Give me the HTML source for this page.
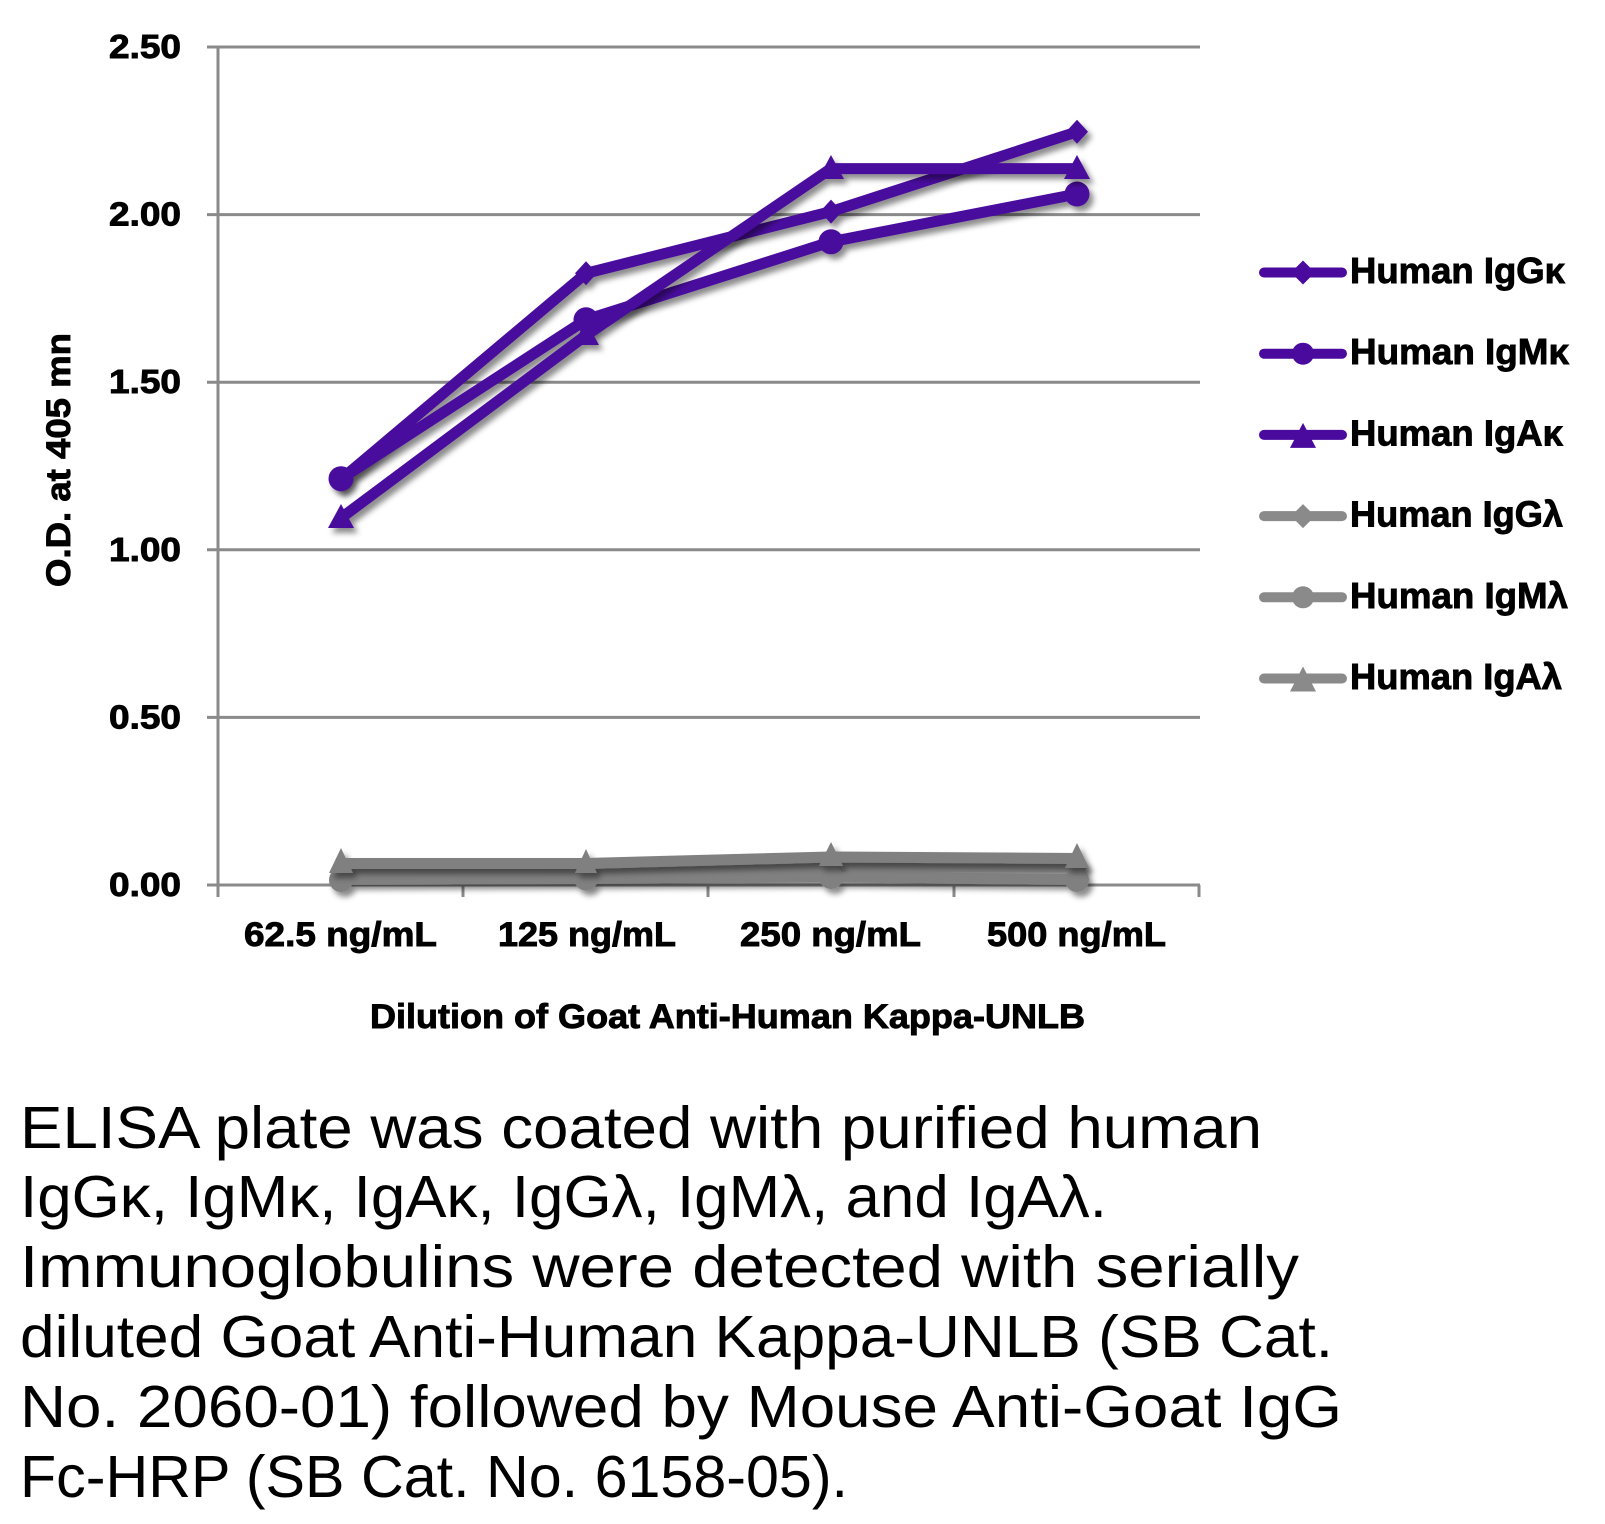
<!DOCTYPE html>
<html>
<head>
<meta charset="utf-8">
<style>
html,body{margin:0;padding:0;background:#fff;}
svg{display:block;}
text{font-family:"Liberation Sans","DejaVu Sans",sans-serif;}
</style>
</head>
<body>
<svg width="1605" height="1524" viewBox="0 0 1605 1524" xmlns="http://www.w3.org/2000/svg">
<defs>
<filter id="sh" filterUnits="userSpaceOnUse" x="0" y="0" width="1605" height="1524">
<feDropShadow dx="4" dy="5" stdDeviation="3" flood-color="#000" flood-opacity="0.45"/>
</filter>
</defs>
<rect width="1605" height="1524" fill="#fff"/>

<!-- gridlines -->
<g stroke="#8a8a8a" stroke-width="3">
<line x1="207" y1="47" x2="1200" y2="47"/>
<line x1="207" y1="214.6" x2="1200" y2="214.6"/>
<line x1="207" y1="382.2" x2="1200" y2="382.2"/>
<line x1="207" y1="549.8" x2="1200" y2="549.8"/>
<line x1="207" y1="717.4" x2="1200" y2="717.4"/>
<line x1="207" y1="885" x2="1200" y2="885"/>
<line x1="218" y1="47" x2="218" y2="897"/>
<line x1="463" y1="885" x2="463" y2="897"/>
<line x1="708" y1="885" x2="708" y2="897"/>
<line x1="954" y1="885" x2="954" y2="897"/>
<line x1="1199" y1="885" x2="1199" y2="897"/>
</g>

<!-- y tick labels -->
<g font-weight="bold" font-size="33" fill="#000" stroke="#000" stroke-width="0.9" text-anchor="end">
<text x="181" y="58" textLength="72" lengthAdjust="spacingAndGlyphs">2.50</text>
<text x="181" y="225.6" textLength="72" lengthAdjust="spacingAndGlyphs">2.00</text>
<text x="181" y="393.2" textLength="72" lengthAdjust="spacingAndGlyphs">1.50</text>
<text x="181" y="560.8" textLength="72" lengthAdjust="spacingAndGlyphs">1.00</text>
<text x="181" y="728.4" textLength="72" lengthAdjust="spacingAndGlyphs">0.50</text>
<text x="181" y="896" textLength="72" lengthAdjust="spacingAndGlyphs">0.00</text>
</g>

<!-- y axis title -->
<text transform="translate(70,460) rotate(-90)" text-anchor="middle" font-weight="bold" font-size="34" stroke="#000" stroke-width="0.9" textLength="254" lengthAdjust="spacingAndGlyphs">O.D. at 405 mn</text>

<!-- x tick labels -->
<g font-weight="bold" font-size="34" fill="#000" stroke="#000" stroke-width="0.9">
<text x="244" y="946" textLength="193" lengthAdjust="spacingAndGlyphs">62.5 ng/mL</text>
<text x="498" y="946" textLength="178" lengthAdjust="spacingAndGlyphs">125 ng/mL</text>
<text x="740" y="946" textLength="181" lengthAdjust="spacingAndGlyphs">250 ng/mL</text>
<text x="987" y="946" textLength="179" lengthAdjust="spacingAndGlyphs">500 ng/mL</text>
</g>

<!-- x axis title -->
<text x="370" y="1028" font-weight="bold" font-size="34" stroke="#000" stroke-width="0.9" textLength="715" lengthAdjust="spacingAndGlyphs">Dilution of Goat Anti-Human Kappa-UNLB</text>

<!-- gray series -->
<g filter="url(#sh)" fill="#808080" stroke="#808080">
<polyline points="341,871.6 586,871.6 831,867 1077,867" fill="none" stroke-width="11" stroke-linejoin="round"/>
<g stroke="none">
<polygon points="341,859.6 352,871.6 341,883.6 330,871.6"/>
<polygon points="586,859.6 597,871.6 586,883.6 575,871.6"/>
<polygon points="831,855 842,867 831,879 820,867"/>
<polygon points="1077,855 1088,867 1077,879 1066,867"/>
</g>
</g>
<g filter="url(#sh)" fill="#808080" stroke="#808080">
<polyline points="341,879.5 586,878.5 831,877 1077,879.5" fill="none" stroke-width="11" stroke-linejoin="round"/>
<g stroke="none">
<circle cx="341" cy="880" r="12"/>
<circle cx="586" cy="878.5" r="12"/>
<circle cx="831" cy="877" r="12"/>
<circle cx="1077" cy="880" r="12"/>
</g>
</g>
<g filter="url(#sh)" fill="#808080" stroke="#808080">
<polyline points="341,863.5 586,863.5 831,857 1077,858.5" fill="none" stroke-width="11" stroke-linejoin="round"/>
<g stroke="none">
<polygon points="341,848 353,873 329,873"/>
<polygon points="586,849 597,873 575,873"/>
<polygon points="831,842 843,866 819,866"/>
<polygon points="1077,843 1089,868 1065,868"/>
</g>
</g>

<!-- purple series -->
<g filter="url(#sh)" fill="#4a0a9e" stroke="#4a0a9e">
<polyline points="341,479.4 586,273.3 831,211.6 1077,131.8" fill="none" stroke-width="11" stroke-linejoin="round"/>
<g stroke="none">
<polygon points="341,467.4 352,479.4 341,491.4 330,479.4"/>
<polygon points="586,261.3 597,273.3 586,285.3 575,273.3"/>
<polygon points="831,199.6 842,211.6 831,223.6 820,211.6"/>
<polygon points="1077,119.8 1088,131.8 1077,143.8 1066,131.8"/>
</g>
</g>
<g filter="url(#sh)" fill="#4a0a9e" stroke="#4a0a9e">
<polyline points="341,478.7 586,319.8 831,241.8 1077,194" fill="none" stroke-width="11" stroke-linejoin="round"/>
<g stroke="none">
<circle cx="341" cy="478.7" r="12.5"/>
<circle cx="586" cy="319.8" r="12.5"/>
<circle cx="831" cy="241.8" r="12.5"/>
<circle cx="1077" cy="194" r="12.5"/>
</g>
</g>
<g filter="url(#sh)" fill="#4a0a9e" stroke="#4a0a9e">
<polyline points="341,518 586,335.3 831,168.6 1077,168.6" fill="none" stroke-width="11" stroke-linejoin="round"/>
<g stroke="none">
<polygon points="341,504 354,528 328,528"/>
<polygon points="586,321 599,345 573,345"/>
<polygon points="831,155 844,179 818,179"/>
<polygon points="1077,155 1090,179 1064,179"/>
</g>
</g>

<!-- legend -->
<g stroke-width="10" stroke-linecap="round">
<line x1="1264" y1="272.5" x2="1342" y2="272.5" stroke="#4a0a9e"/>
<line x1="1264" y1="353.7" x2="1342" y2="353.7" stroke="#4a0a9e"/>
<line x1="1264" y1="434.9" x2="1342" y2="434.9" stroke="#4a0a9e"/>
<line x1="1264" y1="516.1" x2="1342" y2="516.1" stroke="#8a8a8a"/>
<line x1="1264" y1="597.3" x2="1342" y2="597.3" stroke="#8a8a8a"/>
<line x1="1264" y1="678.5" x2="1342" y2="678.5" stroke="#8a8a8a"/>
</g>
<polygon points="1303,260.5 1315,272.5 1303,284.5 1291,272.5" fill="#4a0a9e"/>
<circle cx="1303" cy="353.7" r="11" fill="#4a0a9e"/>
<polygon points="1303,422.9 1316,447.9 1290,447.9" fill="#4a0a9e"/>
<polygon points="1303,504.1 1315,516.1 1303,528.1 1291,516.1" fill="#8a8a8a"/>
<circle cx="1303" cy="597.3" r="11" fill="#8a8a8a"/>
<polygon points="1303,666.5 1316,691.5 1290,691.5" fill="#8a8a8a"/>

<g font-weight="bold" font-size="36" fill="#000" stroke="#000" stroke-width="0.9">
<text x="1350" y="283" textLength="215" lengthAdjust="spacingAndGlyphs">Human IgGκ</text>
<text x="1350" y="364.2" textLength="219" lengthAdjust="spacingAndGlyphs">Human IgMκ</text>
<text x="1350" y="445.4" textLength="213" lengthAdjust="spacingAndGlyphs">Human IgAκ</text>
<text x="1350" y="526.6" textLength="213" lengthAdjust="spacingAndGlyphs">Human IgGλ</text>
<text x="1350" y="607.8" textLength="218" lengthAdjust="spacingAndGlyphs">Human IgMλ</text>
<text x="1350" y="689" textLength="212" lengthAdjust="spacingAndGlyphs">Human IgAλ</text>
</g>

<!-- caption -->
<g font-size="59" fill="#000">
<text x="20" y="1148" textLength="1242" lengthAdjust="spacingAndGlyphs">ELISA plate was coated with purified human</text>
<text x="20" y="1217" textLength="1087" lengthAdjust="spacingAndGlyphs">IgGκ, IgMκ, IgAκ, IgGλ, IgMλ, and IgAλ.</text>
<text x="20" y="1287" textLength="1279" lengthAdjust="spacingAndGlyphs">Immunoglobulins were detected with serially</text>
<text x="20" y="1357" textLength="1313" lengthAdjust="spacingAndGlyphs">diluted Goat Anti-Human Kappa-UNLB (SB Cat.</text>
<text x="20" y="1427" textLength="1322" lengthAdjust="spacingAndGlyphs">No. 2060-01) followed by Mouse Anti-Goat IgG</text>
<text x="20" y="1497" textLength="828" lengthAdjust="spacingAndGlyphs">Fc-HRP (SB Cat. No. 6158-05).</text>
</g>
</svg>
</body>
</html>
